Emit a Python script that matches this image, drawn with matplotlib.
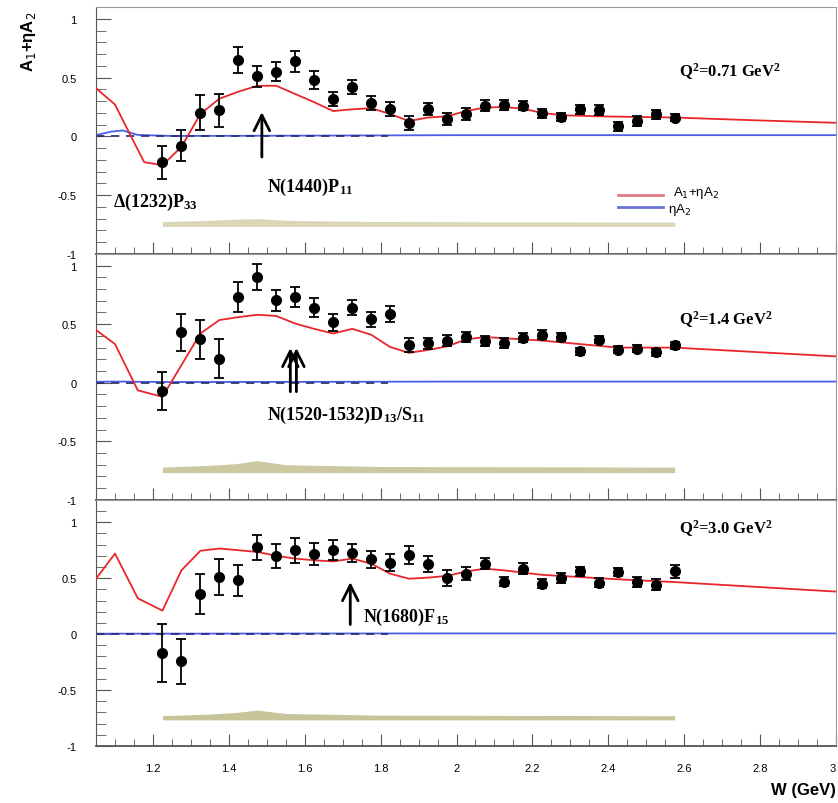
import matplotlib
matplotlib.use('Agg')
import matplotlib.pyplot as plt
from matplotlib.ticker import MultipleLocator

# ------------------------------------------------------------------------------
# data points (same W bins for all three Q2 panels)
W_PTS = [1.225, 1.275, 1.325, 1.375, 1.425, 1.475, 1.525, 1.575, 1.625, 1.675,
         1.725, 1.775, 1.825, 1.875, 1.925, 1.975, 2.025, 2.075, 2.125, 2.175,
         2.225, 2.275, 2.325, 2.375, 2.425, 2.475, 2.525, 2.575]

A_Q071 = [-0.22, -0.08, 0.20, 0.22, 0.65, 0.51, 0.55, 0.64, 0.48, 0.32,
          0.42, 0.28, 0.23, 0.115, 0.23, 0.15, 0.19, 0.26, 0.265, 0.26,
          0.195, 0.165, 0.23, 0.225, 0.086, 0.13, 0.187, 0.16]
E_Q071 = [0.14, 0.13, 0.15, 0.14, 0.11, 0.09, 0.08, 0.09, 0.08, 0.06,
          0.06, 0.06, 0.06, 0.06, 0.05, 0.05, 0.05, 0.045, 0.045, 0.04,
          0.04, 0.035, 0.04, 0.045, 0.04, 0.04, 0.04, 0.03]

A_Q14 = [-0.07, 0.43, 0.37, 0.205, 0.73, 0.90, 0.705, 0.735, 0.64, 0.515,
         0.64, 0.54, 0.585, 0.32, 0.335, 0.36, 0.39, 0.355, 0.34, 0.385,
         0.41, 0.39, 0.27, 0.365, 0.28, 0.29, 0.26, 0.32]
E_Q14 = [0.16, 0.16, 0.165, 0.165, 0.13, 0.11, 0.09, 0.085, 0.08, 0.07,
         0.065, 0.065, 0.07, 0.06, 0.05, 0.05, 0.045, 0.04, 0.04, 0.04,
         0.04, 0.035, 0.03, 0.03, 0.03, 0.03, 0.03, 0.03]

A_Q30 = [-0.17, -0.245, 0.36, 0.51, 0.48, 0.775, 0.70, 0.75, 0.715, 0.75,
         0.727, 0.667, 0.64, 0.705, 0.625, 0.50, 0.54, 0.63, 0.47, 0.585,
         0.45, 0.50, 0.56, 0.46, 0.555, 0.465, 0.44, 0.56]
E_Q30 = [0.26, 0.20, 0.18, 0.16, 0.135, 0.115, 0.11, 0.11, 0.10, 0.09,
         0.08, 0.08, 0.08, 0.08, 0.07, 0.07, 0.06, 0.05, 0.04, 0.05,
         0.04, 0.045, 0.04, 0.04, 0.04, 0.045, 0.05, 0.06]

# model curves (A1 + eta A2)
W_MOD_Q071 = [1.05, 1.10, 1.15, 1.177, 1.225, 1.275, 1.325, 1.375, 1.425, 1.475,
              1.525, 1.575, 1.625, 1.675, 1.725, 1.775, 1.825, 1.875, 1.925, 1.975,
              2.025, 2.075, 2.125, 2.175, 2.225, 2.275, 2.375, 2.575, 2.8, 3.0]
R_MOD_Q071 = [0.41, 0.27, -0.05, -0.22, -0.245, -0.09, 0.19, 0.32, 0.38, 0.43,
              0.43, 0.36, 0.29, 0.215, 0.23, 0.24, 0.19, 0.13, 0.16, 0.17,
              0.215, 0.245, 0.25, 0.235, 0.20, 0.18, 0.17, 0.16, 0.135, 0.115]

W_MOD_Q14 = [1.05, 1.10, 1.16, 1.225, 1.275, 1.325, 1.375, 1.425, 1.475, 1.525,
             1.575, 1.625, 1.675, 1.725, 1.775, 1.825, 1.875, 1.925, 1.975, 2.025,
             2.075, 2.125, 2.225, 2.325, 2.425, 2.575, 2.8, 3.0]
R_MOD_Q14 = [0.45, 0.33, -0.065, -0.12, 0.15, 0.42, 0.535, 0.56, 0.58, 0.57,
             0.505, 0.46, 0.42, 0.46, 0.41, 0.305, 0.255, 0.28, 0.31, 0.37,
             0.39, 0.38, 0.36, 0.33, 0.30, 0.30, 0.26, 0.225]

W_MOD_Q30 = [1.05, 1.10, 1.16, 1.225, 1.275, 1.325, 1.375, 1.425, 1.475, 1.525,
             1.575, 1.625, 1.675, 1.725, 1.775, 1.825, 1.875, 1.925, 1.975, 2.025,
             2.075, 2.125, 2.225, 2.325, 2.425, 2.575, 2.8, 3.0]
R_MOD_Q30 = [0.495, 0.72, 0.32, 0.21, 0.57, 0.745, 0.765, 0.75, 0.735, 0.70,
             0.675, 0.66, 0.65, 0.675, 0.63, 0.54, 0.495, 0.505, 0.52, 0.56,
             0.585, 0.57, 0.53, 0.51, 0.49, 0.465, 0.42, 0.38]

# eta A2 model
W_ETA = [1.05, 1.09, 1.12, 1.16, 1.25, 1.5, 2.0, 3.0]
B_Q071 = [0.01, 0.04, 0.05, 0.012, 0.003, 0.005, 0.01, 0.01]
B_Q14 = [0.008, 0.01, 0.01, 0.008, 0.006, 0.007, 0.01, 0.01]
B_Q30 = [0.004, 0.004, 0.004, 0.004, 0.004, 0.005, 0.006, 0.006]

# systematic error band
W_SYS = [1.225, 1.35, 1.42, 1.475, 1.55, 1.8, 2.575]
SYS_UP_Q071 = [-0.725, -0.715, -0.705, -0.700, -0.715, -0.725, -0.730]
SYS_UP_Q14 = [-0.720, -0.705, -0.690, -0.665, -0.700, -0.715, -0.720]
SYS_UP_Q30 = [-0.730, -0.715, -0.700, -0.680, -0.710, -0.725, -0.730]
SYS_LO = [-0.767, -0.767, -0.767, -0.767, -0.767, -0.767, -0.767]

PANELS = [
    dict(a=A_Q071, e=E_Q071, wm=W_MOD_Q071, rm=R_MOD_Q071, b=B_Q071,
         sys=SYS_UP_Q071, label=r'Q$^{\mathbf{2}}$=0.71 GeV$^{\mathbf{2}}$',
         ylim=(-1, 1.1), qy=0.555, band='#d9d6b8'),
    dict(a=A_Q14, e=E_Q14, wm=W_MOD_Q14, rm=R_MOD_Q14, b=B_Q14,
         sys=SYS_UP_Q14, label=r'Q$^{\mathbf{2}}$=1.4 GeV$^{\mathbf{2}}$',
         ylim=(-1, 1.1), qy=0.55, band='#ccc8a2'),
    dict(a=A_Q30, e=E_Q30, wm=W_MOD_Q30, rm=R_MOD_Q30, b=B_Q30,
         sys=SYS_UP_Q30, label=r'Q$^{\mathbf{2}}$=3.0 GeV$^{\mathbf{2}}$',
         ylim=(-1, 1.2), qy=0.95, band='#c8c49a'),
]

RED = '#e8262c'
BLUE = '#4a5ee8'
SERIF = 'Liberation Serif'
SANS = 'Liberation Sans'

plt.rcParams['mathtext.fontset'] = 'custom'
plt.rcParams['mathtext.rm'] = 'Liberation Serif:bold'
plt.rcParams['mathtext.it'] = 'Liberation Serif:bold'
plt.rcParams['mathtext.bf'] = 'Liberation Serif:bold'

fig = plt.figure(figsize=(8.38, 8.04), dpi=100)

# axes boxes in figure fractions: left, bottom, width, height
boxes = [
    (0.1146, 0.683, 0.883, 0.307),
    (0.1146, 0.377, 0.883, 0.306),
    (0.1146, 0.071, 0.883, 0.306),
]

axes = []
for i, (p, box) in enumerate(zip(PANELS, boxes)):
    ax = fig.add_axes(box)
    axes.append(ax)

    ax.fill_between(W_SYS, SYS_LO, p['sys'], color=p['band'], lw=0, zorder=1)
    ax.plot(W_ETA, p['b'], color=BLUE, lw=1.3, zorder=2)
    ax.plot([1.05, 1.82], [0, 0], color='#28286a', lw=1.2, ls=(0, (5, 4)), zorder=2)
    ax.plot(p['wm'], p['rm'], color=RED, lw=1.3, zorder=3)
    ax.errorbar(W_PTS, p['a'], yerr=p['e'], fmt='o', color='black', ms=7,
                elinewidth=1.3, capsize=3.5, capthick=1.3, zorder=4)

    ax.set_xlim(1.05, 3.0)
    ax.set_ylim(*p['ylim'])
    ax.xaxis.set_major_locator(MultipleLocator(0.2))
    ax.xaxis.set_minor_locator(MultipleLocator(0.05))
    ax.set_yticks([-1, -0.5, 0, 0.5, 1])
    ax.set_yticklabels(['-1', '-0.5', '0', '0.5', '1'])
    ax.yaxis.set_minor_locator(MultipleLocator(0.1))
    ax.tick_params(which='both', direction='in', top=False, right=False,
                   colors='#555555', labelcolor='black', labelsize=8)
    ax.tick_params(which='major', length=9, width=0.8)
    ax.tick_params(which='minor', length=5, width=0.6)
    ax.tick_params(axis='y', which='major', length=11)
    ax.tick_params(axis='y', which='minor', length=7)
    ax.tick_params(axis='y', pad=14)
    for s in ax.spines.values():
        s.set_color('#999999')
        s.set_linewidth(0.8)
    ax.spines['left'].set_color('#555555')
    ax.spines['bottom'].set_color('#555555')
    ax.spines['bottom'].set_linewidth(1.3)
    for lab in ax.get_yticklabels():
        lab.set_fontfamily(SANS)
    if i < 2:
        ax.tick_params(axis='x', labelbottom=False)
    else:
        ax.set_xticks([1.2, 1.4, 1.6, 1.8, 2.0, 2.2, 2.4, 2.6, 2.8, 3.0])
        ax.set_xticklabels(['1.2', '1.4', '1.6', '1.8', '2', '2.2', '2.4',
                            '2.6', '2.8', '3'])
        labs = ax.get_xticklabels()
        for lab in labs:
            lab.set_fontfamily(SANS)
        labs[-1].set_horizontalalignment('right')
        ax.tick_params(axis='x', pad=12)

    ax.text(2.587, p['qy'], p['label'], fontsize=12, fontfamily=SERIF,
            fontweight='bold', ha='left', va='center')

# top panel annotations
ax = axes[0]
ax.annotate('', xy=(1.487, 0.23), xytext=(1.487, -0.2),
            arrowprops=dict(arrowstyle='->', lw=2, mutation_scale=28, color='black'))
ax.text(1.50, -0.43, r'N(1440)P$_{\mathbf{11}}$', fontsize=13, fontfamily=SERIF,
        fontweight='bold', ha='left', va='center')
ax.text(1.095, -0.55, r'$\Delta$(1232)P$_{\mathbf{33}}$', fontsize=13, fontfamily=SERIF,
        fontweight='bold', ha='left', va='center')
ax.plot([2.425, 2.545], [-0.5, -0.5], color='#e07a86', lw=2)
ax.plot([2.425, 2.545], [-0.6, -0.6], color='#6a72dc', lw=2)
ax.text(2.57, -0.475, 'A$_1$+ηA$_2$', fontsize=9.5, fontfamily=SANS,
        ha='left', va='center', math_fontfamily='dejavusans')
ax.text(2.557, -0.615, 'ηA$_2$', fontsize=9.5, fontfamily=SANS,
        ha='left', va='center', math_fontfamily='dejavusans')

# middle panel annotations
ax = axes[1]
for xo in (1.562, 1.578):
    ax.annotate('', xy=(xo, 0.32), xytext=(xo, -0.1),
                arrowprops=dict(arrowstyle='->', lw=2, mutation_scale=28, color='black'))
ax.text(1.50, -0.27, r'N(1520-1532)D$_{\mathbf{13}}$/S$_{\mathbf{11}}$', fontsize=13,
        fontfamily=SERIF, fontweight='bold', ha='left', va='center')

# bottom panel annotations
ax = axes[2]
ax.annotate('', xy=(1.72, 0.49), xytext=(1.72, 0.06),
            arrowprops=dict(arrowstyle='->', lw=2, mutation_scale=28, color='black'))
ax.text(1.753, 0.16, r'N(1680)F$_{\mathbf{15}}$', fontsize=13, fontfamily=SERIF,
        fontweight='bold', ha='left', va='center')

fig.text(0.997, 0.007, 'W (GeV)', fontsize=12, fontfamily=SANS, fontweight='bold',
         ha='right', va='bottom')
fig.text(0.034, 0.948, 'A$_1$+ηA$_2$', fontsize=12, fontfamily=SANS,
         fontweight='bold', rotation=90, ha='center', va='center',
         math_fontfamily='dejavusans')

fig.savefig('out.png', dpi=100)
